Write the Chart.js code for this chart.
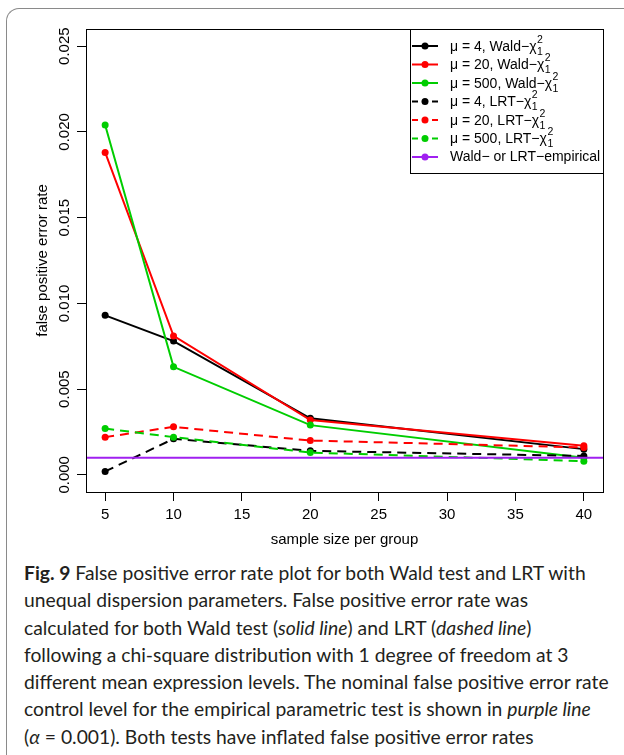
<!DOCTYPE html>
<html>
<head>
<meta charset="utf-8">
<script src="https://cdn.jsdelivr.net/npm/chart.js@4"></script>
<style>
  html, body { margin: 0; padding: 0; background: #fff; overflow: hidden; }
  body { width: 624px; height: 755px; position: relative; }
  #frame {
    position: absolute; left: 6px; top: 8px; width: 700px; height: 800px;
    border-left: 1.5px solid #8a8a8a; border-top: 1.5px solid #8a8a8a;
    border-top-left-radius: 13px;
  }
  #chart { position: absolute; left: 0; top: 0; }
  #caption {
    position: absolute; left: 24px; top: 559px;
    font-family: Lato, "Open Sans", sans-serif; font-size: 19.3px;
    line-height: 27.3px; color: #231f20; white-space: nowrap;
  }
  #caption b { font-weight: bold; }
</style>
</head>
<body>
<div id="frame"></div>
<canvas id="chart" width="624" height="555"></canvas>
<div id="caption">
<b>Fig. 9</b> False positive error rate plot for both Wald test and LRT with<br>
unequal dispersion parameters. False positive error rate was<br>
calculated for both Wald test (<i>solid line</i>) and LRT (<i>dashed line</i>)<br>
following a chi-square distribution with 1 degree of freedom at 3<br>
different mean expression levels. The nominal false positive error rate<br>
control level for the empirical parametric test is shown in <i>purple line</i><br>
(<i>α</i> = 0.001). Both tests have inflated false positive error rates
</div>
<script>
// sample sizes and false positive rates
var sampleSizes = [5, 10, 20, 40];
var wald4   = [0.0093, 0.0078, 0.0033, 0.0015];
var wald20  = [0.0188, 0.0081, 0.0032, 0.0017];
var wald500 = [0.0204, 0.0063, 0.0029, 0.0010];
var lrt4    = [0.0002, 0.0021, 0.0014, 0.0011];
var lrt20   = [0.0022, 0.0028, 0.0020, 0.0016];
var lrt500  = [0.0027, 0.0022, 0.0013, 0.0008];
var alpha = 0.001;

var xTicks = [5, 10, 15, 20, 25, 30, 35, 40];
var yTicks = [0, 0.005, 0.010, 0.015, 0.020, 0.025];
var xMin = 3.6, xMax = 41.4;
var yMin = -0.001, yMax = 0.026;

var seriesNames = [
  'μ = 4, Wald−χ²₁', 'μ = 20, Wald−χ²₁', 'μ = 500, Wald−χ²₁',
  'μ = 4, LRT−χ²₁', 'μ = 20, LRT−χ²₁', 'μ = 500, LRT−χ²₁',
  'Wald− or LRT−empirical'
];
var seriesValues = [wald4, wald20, wald500, lrt4, lrt20, lrt500];
var colors = ['#000000', '#ff0000', '#00cd00', '#000000', '#ff0000', '#00cd00', '#a020f0'];

var FONT = '"Liberation Sans", Arial, Helvetica, sans-serif';

var datasets = [];
for (var i = 0; i < seriesValues.length; i++) {
  var pts = [];
  for (var j = 0; j < sampleSizes.length; j++) {
    pts.push({x: sampleSizes[j], y: seriesValues[i][j]});
  }
  datasets.push({
    label: seriesNames[i],
    data: pts,
    borderColor: colors[i],
    backgroundColor: colors[i],
    borderWidth: 2,
    borderDash: i >= 3 ? [9, 6] : [],
    pointRadius: 3.5,
    pointBorderWidth: 0,
    pointBackgroundColor: colors[i],
    order: 10 - i
  });
}
// empirical alpha level across the whole plot
datasets.push({
  label: seriesNames[6],
  data: [{x: xMin, y: alpha}, {x: xMax, y: alpha}],
  borderColor: colors[6],
  borderWidth: 2,
  pointRadius: 0,
  order: 0
});

var framePlugin = {
  id: 'frame',
  afterDraw: function(chart) {
    var ctx = chart.ctx;
    var a = chart.chartArea;
    var ys = chart.scales.y;
    ctx.save();
    // plot box
    ctx.strokeStyle = '#000';
    ctx.lineWidth = 1;
    ctx.strokeRect(a.left + 0.5, a.top + 0.5, a.right - a.left, a.bottom - a.top);

    // rotated y tick labels
    ctx.fillStyle = '#000';
    ctx.font = '15px ' + FONT;
    ctx.textAlign = 'center';
    ctx.textBaseline = 'middle';
    yTicks.forEach(function(v) {
      var py = ys.getPixelForValue(v);
      ctx.save();
      ctx.translate(65, py);
      ctx.rotate(-Math.PI / 2);
      ctx.fillText(v.toFixed(3), 0, 0);
      ctx.restore();
    });

    // axis titles
    ctx.fillText('sample size per group', (a.left + a.right) / 2, 540);
    ctx.save();
    ctx.translate(43, (a.top + a.bottom) / 2);
    ctx.rotate(-Math.PI / 2);
    ctx.fillText('false positive error rate', 0, 0);
    ctx.restore();

    // legend
    var lx = 410, ly = a.top, lw = a.right - lx, lh = 144;
    ctx.fillStyle = '#fff';
    ctx.fillRect(lx, ly, lw, lh);
    ctx.strokeStyle = '#000';
    ctx.strokeRect(lx + 0.5, ly + 0.5, lw, lh);
    ctx.textAlign = 'left';
    chart.data.datasets.forEach(function(ds, k) {
      var cy = ly + 17 + k * 18.5;
      ctx.strokeStyle = ds.borderColor;
      ctx.lineWidth = 2;
      ctx.setLineDash(ds.borderDash && ds.borderDash.length ? [6, 4] : []);
      ctx.beginPath();
      ctx.moveTo(412, cy);
      ctx.lineTo(438, cy);
      ctx.stroke();
      ctx.setLineDash([]);
      ctx.fillStyle = ds.borderColor;
      ctx.beginPath();
      ctx.arc(425, cy, 3.5, 0, Math.PI * 2);
      ctx.fill();

      ctx.fillStyle = '#000';
      ctx.font = '14px ' + FONT;
      var text = ds.label;
      if (text.slice(-2) === '²₁') {
        var base = text.slice(0, -2);
        ctx.fillText(base, 450, cy + 1);
        var w = ctx.measureText(base).width;
        ctx.font = '10.5px ' + FONT;
        ctx.fillText('2', 450 + w + 0.5, cy - 6);
        ctx.fillText('1', 450 + w + 0.5, cy + 6);
      } else {
        ctx.fillText(text, 450, cy);
      }
    });
    ctx.restore();
  }
};

new Chart(document.getElementById('chart'), {
  type: 'line',
  data: {datasets: datasets},
  options: {
    responsive: false,
    animation: false,
    devicePixelRatio: 1,
    layout: {padding: {left: 0, top: 29, right: 21, bottom: 0}},
    plugins: {legend: {display: false}, tooltip: {enabled: false}},
    elements: {line: {tension: 0}},
    scales: {
      x: {
        type: 'linear',
        min: xMin,
        max: xMax,
        afterBuildTicks: function(s) { s.ticks = xTicks.map(function(v) { return {value: v}; }); },
        afterFit: function(s) { s.height = 63; },
        grid: {drawOnChartArea: false, drawTicks: true, tickLength: 9, color: '#000'},
        border: {display: false},
        ticks: {
          color: '#000', padding: 5, maxRotation: 0, autoSkip: false,
          font: {family: FONT, size: 15, lineHeight: 1.2}
        }
      },
      y: {
        type: 'linear',
        min: yMin,
        max: yMax,
        afterBuildTicks: function(s) { s.ticks = yTicks.map(function(v) { return {value: v}; }); },
        afterFit: function(s) { s.width = 86; },
        grid: {drawOnChartArea: false, drawTicks: true, tickLength: 9, color: '#000'},
        border: {display: false},
        ticks: {display: false}
      }
    }
  },
  plugins: [framePlugin]
});
</script>
</body>
</html>
